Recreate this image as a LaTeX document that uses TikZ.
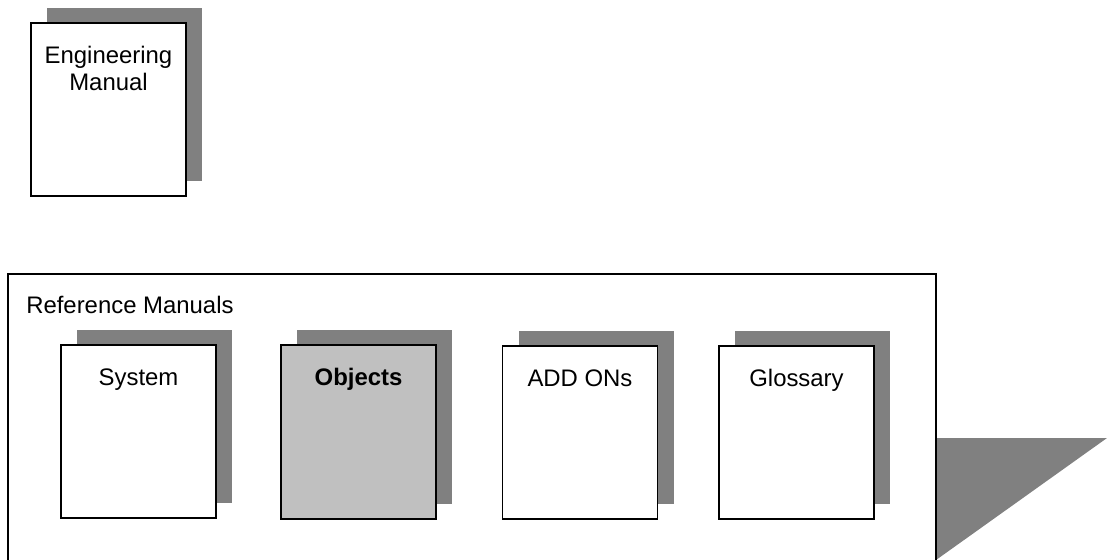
\documentclass[tikz,border=0pt]{standalone}
\usepackage{fontspec}
\setmainfont{Liberation Sans}
\usepackage{tikz}
\usetikzlibrary{shadows}
\definecolor{shadowgray}{HTML}{808080}
\definecolor{objgray}{HTML}{C0C0C0}

\begin{document}
\begin{tikzpicture}[x=0.025cm, y=-0.025cm,
        manual/.style={draw, line width=0.8pt, fill=white, minimum width=3.875cm, minimum height=4.325cm,
            general shadow={fill=shadowgray, shadow xshift=0.41cm, shadow yshift=0.375cm}},
        booktitle/.style={anchor=base, inner sep=0pt, align=center,
            font=\fontsize{17}{19.2}\selectfont}]
        \useasboundingbox (0, 0) rectangle (1107, 560);
        % engineering manual
        \node [manual] (eng) at (108.5, 109.5) {};
        \node [booktitle] (engtitle) at ([yshift=-1.7cm]eng.north) {Engineering\\Manual};
        % reference manuals frame
        \fill [shadowgray] (936, 438) -- (1107, 438) -- (936, 560) -- cycle;
        \draw [line width=0.8pt] (8, 560) -- (8, 274) -- (936, 274) -- (936, 560);
        \node [booktitle, anchor=base west] (reftitle) at (26, 313) {Reference Manuals};
        \node [manual] (system) at (138.5, 431.5) {};
        \node [booktitle] (systemtitle) at ([yshift=-1.025cm]system.north) {System};
        \node [manual, fill=objgray, line width=1.4pt] (objects) at (358.5, 432) {};
        \node [booktitle, font=\fontsize{17}{19.2}\selectfont\bfseries] (objectstitle) at ([yshift=-1.025cm]objects.north) {Objects};
        \node [manual] (addons) at (580, 432.5) {};
        \node [booktitle] (addonstitle) at ([yshift=-1.025cm]addons.north) {ADD ONs};
        \node [manual] (glossary) at (796.5, 432.5) {};
        \node [booktitle] (glossarytitle) at ([yshift=-1.025cm]glossary.north) {Glossary};
\end{tikzpicture}
\end{document}
